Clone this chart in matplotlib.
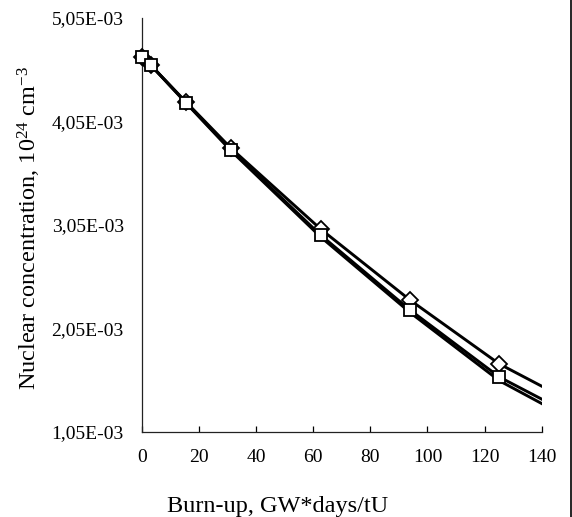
import matplotlib
matplotlib.use("Agg")
import matplotlib.pyplot as plt
from matplotlib.lines import Line2D

# Burn-up points (GW*days/tU), last one lies past the axis edge
burnup = [0, 3.1, 15.6, 31.3, 62.6, 93.9, 125.2, 156.5]
# Nuclear concentration, 1e24 cm^-3
conc_diamond = [4.676e-3, 4.596e-3, 4.235e-3, 3.790e-3, 3.011e-3, 2.325e-3, 1.707e-3, 1.254e-3]
conc_square = [4.676e-3, 4.596e-3, 4.229e-3, 3.775e-3, 2.953e-3, 2.229e-3, 1.581e-3, 1.130e-3]
conc_plain = [4.676e-3, 4.596e-3, 4.225e-3, 3.765e-3, 2.935e-3, 2.205e-3, 1.545e-3, 1.080e-3]

y_ticks = [1.05e-3, 2.05e-3, 3.05e-3, 4.05e-3, 5.05e-3]
y_tick_labels = ['1,05E-03', '2,05E-03', '3,05E-03', '4,05E-03', '5,05E-03']
x_ticks = [0, 20, 40, 60, 80, 100, 120, 140]

plt.rcParams['font.family'] = ['Liberation Serif', 'DejaVu Serif']
plt.rcParams['mathtext.fontset'] = 'custom'
plt.rcParams['mathtext.rm'] = 'Liberation Serif'
plt.rcParams['mathtext.it'] = 'Liberation Serif'
plt.rcParams['mathtext.default'] = 'regular'

fig = plt.figure(figsize=(5.72, 5.17), dpi=100)
ax = fig.add_axes([0.248, 0.1644, 0.699, 0.8007])

# lines (clipped at the axes edge)
ax.plot(burnup, conc_plain, color='black', lw=2.1, zorder=2)
ax.plot(burnup, conc_diamond, color='black', lw=2.1, zorder=2)
ax.plot(burnup, conc_square, color='black', lw=2.1, zorder=2)
# markers, not clipped so the ones on the y axis show fully
mk = dict(linestyle='none', markerfacecolor='white', markeredgecolor='black',
          markeredgewidth=1.3, clip_on=False)
ax.plot(burnup[:-1], conc_diamond[:-1], marker='D', markersize=8, zorder=3, **mk)
ax.plot(burnup[:-1], conc_square[:-1], marker='s', markersize=8.5, zorder=4, **mk)

ax.set_xlim(0, 140)
ax.set_ylim(1.05e-3, 5.05e-3)
ax.set_xticks(x_ticks)
ax.set_yticks(y_ticks)
ax.set_yticklabels(y_tick_labels)

for s in ['top', 'right']:
    ax.spines[s].set_visible(False)
for s in ['left', 'bottom']:
    ax.spines[s].set_linewidth(0.9)
    ax.spines[s].set_color('#222222')

ax.tick_params(axis='x', direction='in', length=4, width=0.9, labelsize=14, pad=12)
ax.tick_params(axis='y', length=0, labelsize=14, pad=13)

fig.text(0.486, 0.0106, 'Burn-up, GW*days/tU', fontsize=17.5, ha='center', va='baseline')
fig.text(0.051, 0.56, 'Nuclear concentration, 10$^{24}$ cm$^{-3}$', fontsize=17.5,
         rotation=90, ha='center', va='center')

# thin frame line at the right edge of the picture
fig.add_artist(Line2D([0.9985, 0.9985], [0, 1], color='black', lw=1.2, transform=fig.transFigure))

fig.savefig('out.png', dpi=100)
